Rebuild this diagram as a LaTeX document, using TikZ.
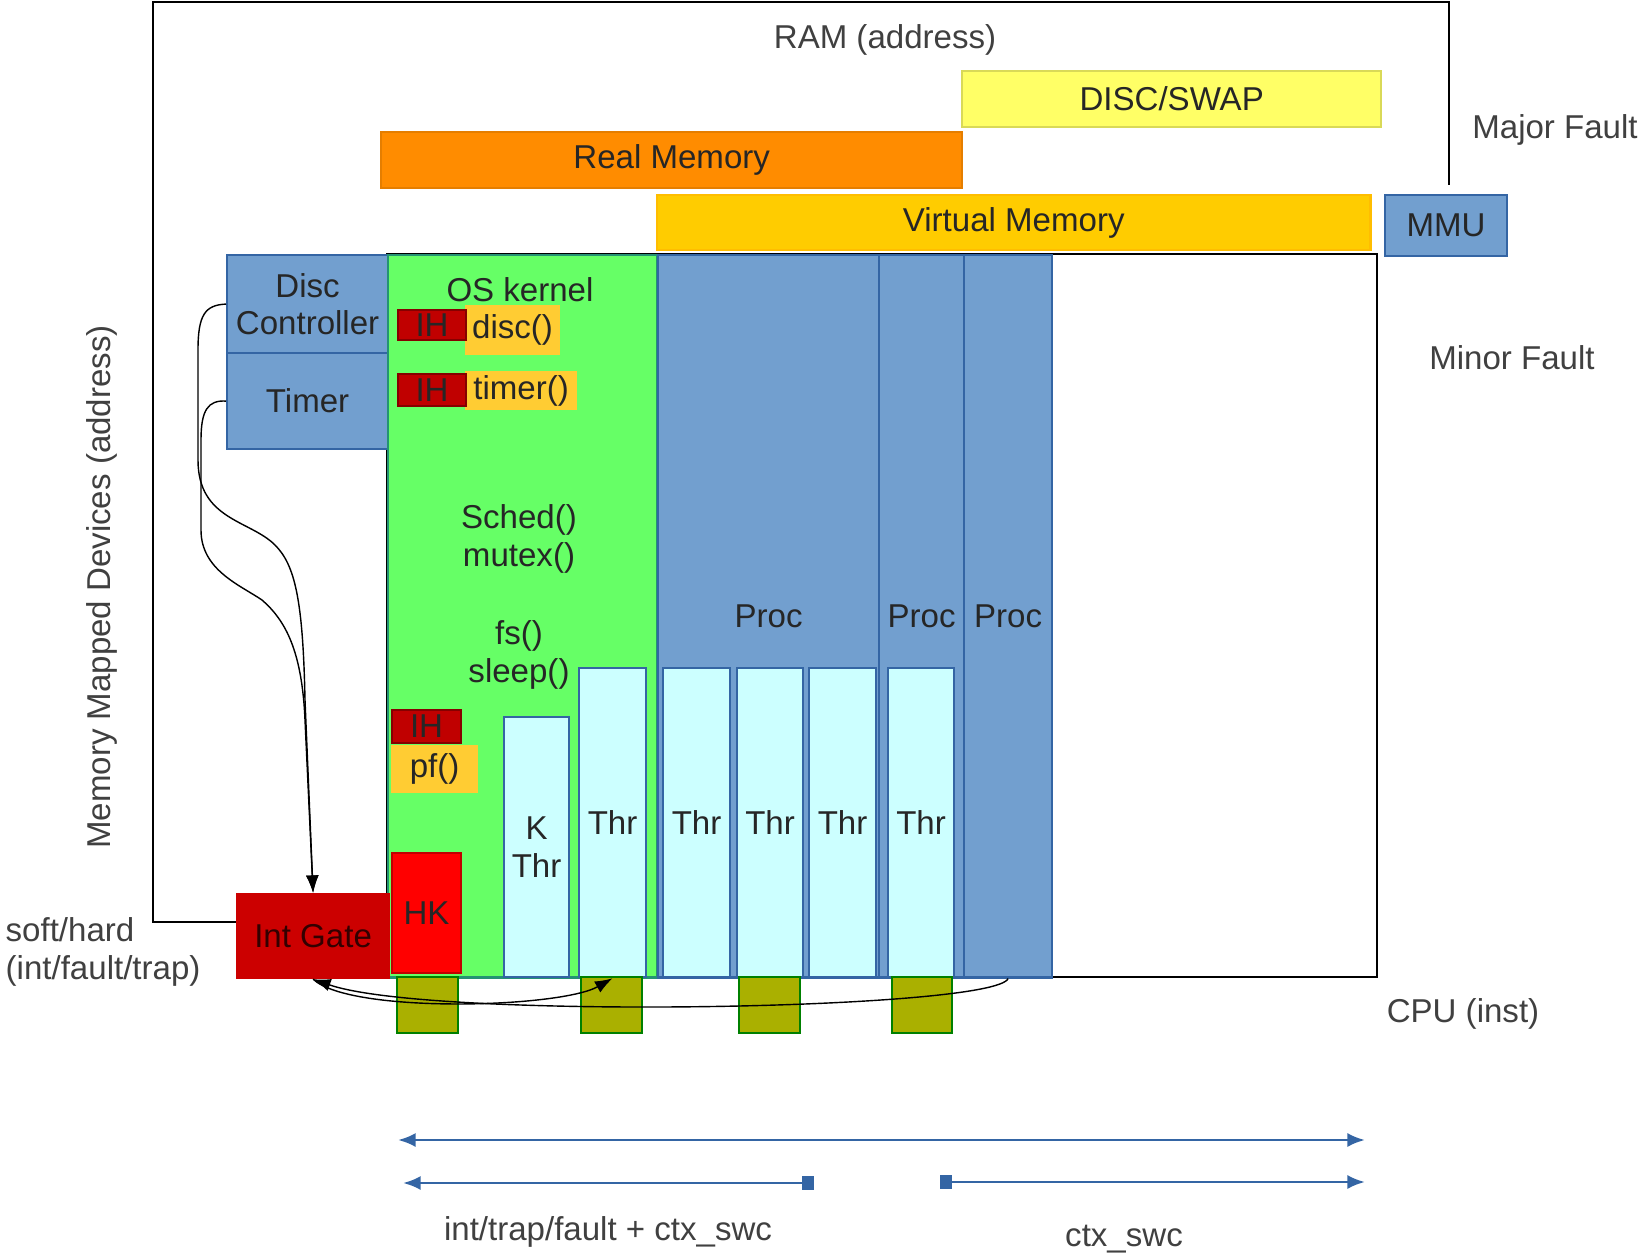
\documentclass[tikz,border=0pt]{standalone}
\usepackage{fontspec}
\setmainfont{Liberation Sans}
\usetikzlibrary{positioning,arrows.meta}
\definecolor{devblue}{HTML}{729FCF}
\definecolor{devline}{HTML}{3465A4}
\definecolor{kgreen}{HTML}{66FF66}
\definecolor{thrcyan}{HTML}{CCFFFF}
\definecolor{ihred}{HTML}{C00000}
\definecolor{gatered}{HTML}{CC0000}
\definecolor{hkred}{HTML}{FF0000}
\definecolor{funcgold}{HTML}{FFCC33}
\definecolor{swapyellow}{HTML}{FFFF66}
\definecolor{realorange}{HTML}{FF8C00}
\definecolor{virtgold}{HTML}{FFCC00}
\definecolor{cpuolive}{HTML}{AAB000}
\newcommand\lab{\fontsize{9.4}{10.7}\selectfont}
\tikzset{every picture/.style={>={Latex[length=5pt,width=3.6pt]}}}
\tikzset{
  blk/.style={draw, line width=0.6pt, anchor=north west, inner sep=0pt, align=center, font=\lab, text=black!85},
  blu/.style={blk, fill=devblue, draw=devline},
  thr/.style={blk, fill=thrcyan, draw=devline},
  ih/.style={blk, fill=ihred, draw=ihred!70!black},
  fn/.style={blk, fill=funcgold, draw=funcgold},
  cpu/.style={blk, fill=cpuolive, draw=green!50!black},
  lbl/.style={font=\lab, text=black!75, align=center},
  spanline/.style={draw=devline, line width=0.8pt}
}

\begin{document}
\begin{tikzpicture}[x=0.01cm, y=-0.01cm]
    \useasboundingbox (0,0) rectangle (1643,1255);

    % RAM frame
    \draw[line width=0.6pt] (236,922) -| (153,2) -| (1449,185);
    \node[lbl] (ram) at (885,40) {RAM (address)};

    % memory bars
    \node[blk, fill=swapyellow, draw=swapyellow!85!black, minimum width=4.19cm, minimum height=0.56cm] (swap) at (961,70) {DISC/SWAP};
    \node[blk, fill=realorange, draw=realorange!90!black, minimum width=5.81cm, minimum height=0.56cm] (realmem) at (380,131) {Real Memory};
    \node[blk, fill=virtgold, draw=virtgold!80!orange, minimum width=7.13cm, minimum height=0.55cm] (virtmem) at (656,194) {Virtual Memory};
    \node[blu, minimum width=1.22cm, minimum height=0.61cm] (mmu) at (1384,194) {MMU};
    \node[lbl] (major) at (1555,130) {Major Fault};
    \node[lbl] (minor) at (1512,358) {Minor Fault};

    % CPU frame
    \draw[line width=0.6pt] (387,254) rectangle (1377,977);
    \node[lbl] (cpuinst) at (1463,1014) {CPU (inst)};

    % devices
    \node[blu, minimum width=1.61cm, minimum height=0.98cm] (dc) at (226,254) {Disc\\Controller};
    \node[blu, minimum width=1.61cm, minimum height=0.96cm] (tm) at (226,352) {Timer};
    \node[lbl, rotate=90] (mmd) at (102,587) {Memory Mapped Devices (address)};

    % kernel
    \node[blk, fill=kgreen, draw=devline!70!green, minimum width=2.69cm, minimum height=7.22cm] (kern) at (387,254) {};
    \node[lbl, text=black!85] (oskern) at (520,290) {OS kernel};
    \node[fn, minimum width=0.93cm, minimum height=0.48cm] (disc) at (465,305) {disc()};
    \node[ih, minimum width=0.68cm, minimum height=0.30cm] (ihdisc) at (397,309) {IH};
    \node[fn, minimum width=1.10cm, minimum height=0.37cm] (timer) at (465,371) {timer()};
    \node[ih, minimum width=0.68cm, minimum height=0.32cm] (ihtimer) at (397,373) {IH};
    \node[lbl, text=black!85] (sched) at (519,539) {Sched()\\mutex()};
    \node[lbl, text=black!85] (fs) at (519,655) {fs()\\sleep()};
    \node[ih, minimum width=0.69cm, minimum height=0.33cm] (ihpf) at (391,709) {IH};
    \node[fn, minimum width=0.85cm, minimum height=0.46cm] (pf) at (391,745) {pf()};
    \node[blk, fill=hkred, draw=ihred, minimum width=0.69cm, minimum height=1.20cm] (hk) at (391,852) {HK};
    \node[thr, minimum width=0.65cm, minimum height=2.60cm] (kthr) at (503,716) {K\\Thr};
    \node[thr, minimum width=0.67cm, minimum height=3.09cm] (thrk) at (578,667) {Thr};

    % processes
    \node[blu, minimum width=2.21cm, minimum height=7.22cm] (p1) at (657,254) {Proc};
    \node[blu, minimum width=0.85cm, minimum height=7.22cm] (p2) at (878,254) {Proc};
    \node[blu, minimum width=0.88cm, minimum height=7.22cm] (p3) at (963,254) {Proc};
    \node[thr, minimum width=0.67cm, minimum height=3.09cm] (t1) at (662,667) {Thr};
    \node[thr, minimum width=0.66cm, minimum height=3.09cm] (t2) at (736,667) {Thr};
    \node[thr, minimum width=0.67cm, minimum height=3.09cm] (t3) at (808,667) {Thr};
    \node[thr, minimum width=0.66cm, minimum height=3.09cm] (t4) at (887,667) {Thr};

    % cpus
    \node[cpu, minimum width=0.61cm, minimum height=0.56cm] (c1) at (396,976) {};
    \node[cpu, minimum width=0.61cm, minimum height=0.56cm] (c2) at (580,976) {};
    \node[cpu, minimum width=0.61cm, minimum height=0.56cm] (c3) at (738,976) {};
    \node[cpu, minimum width=0.60cm, minimum height=0.56cm] (c4) at (891,976) {};

    % interrupt gate
    \node[blk, fill=gatered, draw=gatered, minimum width=1.52cm, minimum height=0.84cm, text=black!80!red] (ig) at (236,893) {Int Gate};
    \node[lbl, anchor=west, align=left, inner sep=0pt] (soft) at (5,952) {soft/hard\\(int/fault/trap)};

    % device interrupts
    \draw[->, thin] (dc.west) .. controls (205,305) and (198,315) .. (198,350) -- (198,460)
        .. controls (198,520) and (250,520) .. (275,545) .. controls (295,565) and (303,600) .. (305,700) -- (ig.north);
    \draw[->, thin] (tm.west) .. controls (208,400) and (201,410) .. (201,440) -- (201,530)
        .. controls (201,570) and (240,585) .. (262,600) .. controls (285,620) and (302,650) .. (305,720) -- (ig.north);

    % switches
    \draw[->, thin] (p3.south) .. controls (995,1010) and (430,1020) .. (ig.south);
    \draw[->, thin] (ig.south) .. controls (350,1014) and (560,1008) .. (thrk.south);

    % spans
    \coordinate (spl) at (398,1140);
    \coordinate (spr) at (1365,1140);
    \coordinate (intl) at (403,1183);
    \coordinate (intr) at (814,1183);
    \coordinate (ctxl) at (940,1182);
    \coordinate (ctxr) at (1365,1182);
    \draw[spanline, {Latex[length=5pt,width=4pt]}-{Latex[length=5pt,width=4pt]}] (spl) -- (spr);
    \draw[spanline, {Latex[length=5pt,width=4pt]}-{Square[length=3.4pt,width=4pt]}] (intl) -- (intr);
    \draw[spanline, {Square[length=3.4pt,width=4pt]}-{Latex[length=5pt,width=4pt]}] (ctxl) -- (ctxr);
    \node[lbl] (intlbl) at (608,1232) {int/trap/fault + ctx\_swc};
    \node[lbl] (ctxlbl) at (1124,1239) {ctx\_swc};
\end{tikzpicture}
\end{document}
